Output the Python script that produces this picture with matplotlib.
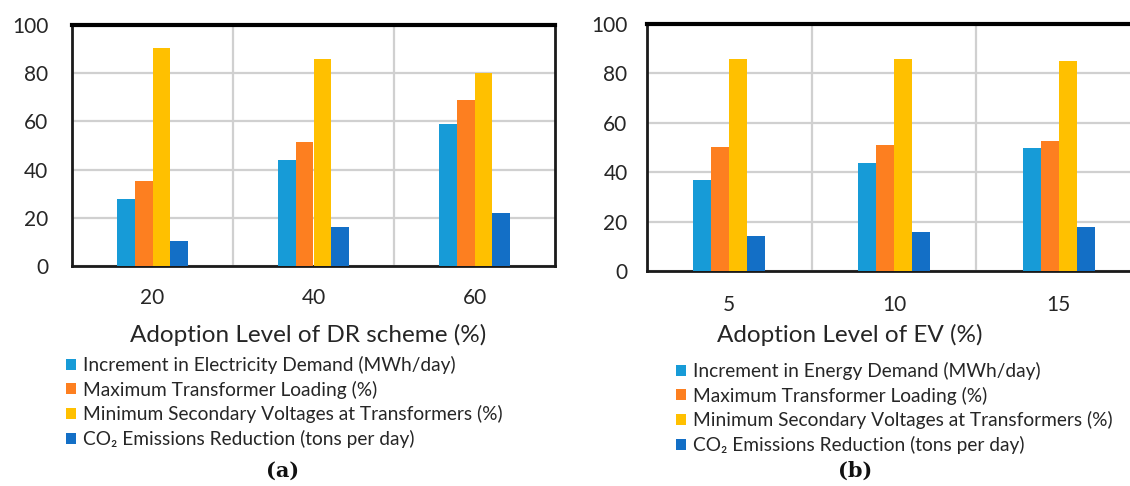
import matplotlib
matplotlib.use("Agg")
import matplotlib.pyplot as plt
import numpy as np
from matplotlib.patches import Patch

# ---- data ----
cats_a = ["20", "40", "60"]
cats_b = ["5", "10", "15"]
series_a = ["Increment in Electricity Demand (MWh/day)",
            "Maximum Transformer Loading (%)",
            "Minimum Secondary Voltages at Transformers (%)",
            "CO\u2082 Emissions Reduction (tons per day)"]
series_b = ["Increment in Energy Demand (MWh/day)",
            "Maximum Transformer Loading (%)",
            "Minimum Secondary Voltages at Transformers (%)",
            "CO\u2082 Emissions Reduction (tons per day)"]
demand_a = [27.8, 43.8, 59.1]
loading_a = [35.2, 51.3, 68.8]
voltage_a = [90.5, 85.8, 79.9]
co2_a = [10.4, 16.2, 22.0]
demand_b = [36.8, 43.6, 49.9]
loading_b = [50.1, 51.0, 52.5]
voltage_b = [85.8, 85.8, 84.9]
co2_b = [14.2, 15.7, 17.7]
yticks = [0, 20, 40, 60, 80, 100]

colors = ["#179bd7", "#fd7f20", "#ffc000", "#136fc6"]
FONT = ["Lato", "DejaVu Sans"]
plt.rcParams['font.family'] = FONT
TXT = "#262626"

fig = plt.figure(figsize=(11.30, 4.86), dpi=100)
W, H = 1130, 486

def px_axes(x0, x1, ytop, ybot):
    return fig.add_axes([x0 / W, (H - ybot) / H, (x1 - x0) / W, (ybot - ytop) / H])

def draw(ax, cats, data, bw, lpad, bpad):
    x = np.arange(len(cats))
    n = len(data)
    for i, vals in enumerate(data):
        ax.bar(x + (i - (n - 1) / 2) * bw, vals, width=bw, color=colors[i],
               zorder=3, linewidth=0)
    ax.set_xlim(-0.5, len(cats) - 0.5)
    ax.set_ylim(0, 100)
    ax.set_yticks(yticks)
    ax.set_yticklabels([str(v) for v in yticks], fontsize=15, color=TXT)
    ax.set_xticks(x)
    ax.set_xticklabels(cats, fontsize=15, color=TXT)
    ax.set_xticks(np.arange(0.5, len(cats) - 0.5, 1.0), minor=True)
    ax.tick_params(axis='both', which='both', length=0)
    ax.tick_params(axis='y', pad=lpad)
    ax.tick_params(axis='x', pad=bpad)
    ax.yaxis.grid(True, color="#d0d0d0", linewidth=1.6, zorder=0)
    ax.xaxis.grid(True, which='minor', color="#d0d0d0", linewidth=1.6, zorder=0)
    ax.set_axisbelow(True)
    for s in ["left", "bottom", "right"]:
        ax.spines[s].set_color("#1a1a1a")
        ax.spines[s].set_linewidth(2.0)
    ax.spines["top"].set_color("#000000")
    ax.spines["top"].set_linewidth(3.0)

ax1 = px_axes(72, 555, 25, 266)
draw(ax1, cats_a, [demand_a, loading_a, voltage_a, co2_a], 0.11, 17, 16)
ax2 = px_axes(647, 1141, 24, 271)
draw(ax2, cats_b, [demand_b, loading_b, voltage_b, co2_b], 0.109, 14, 17)

fig.text(308 / W, 1 - 335 / H, "Adoption Level of DR scheme (%)", fontsize=17.5,
         ha="center", va="center", color=TXT)
fig.text(850 / W, 1 - 335 / H, "Adoption Level of EV (%)", fontsize=17.5,
         ha="center", va="center", color=TXT)

def legend(ax, labels, x, y):
    handles = [Patch(facecolor=c, edgecolor="none") for c in colors]
    ax.legend(handles, labels, loc="upper left", bbox_to_anchor=(x / W, 1 - y / H),
              bbox_transform=fig.transFigure, frameon=False, fontsize=13.8,
              handlelength=0.5, handleheight=0.5, handletextpad=0.4,
              labelspacing=0.345, borderaxespad=0, borderpad=0, labelcolor=TXT)

legend(ax1, series_a, 66, 356)
legend(ax2, series_b, 676, 362)

fig.text(283 / W, 1 - 471 / H, "(a)", fontsize=15, ha="center", va="center",
         family=["DejaVu Serif"], weight="bold", color="#111111")
fig.text(855 / W, 1 - 471 / H, "(b)", fontsize=15, ha="center", va="center",
         family=["DejaVu Serif"], weight="bold", color="#111111")

fig.savefig("out.png", dpi=100, facecolor="white")
